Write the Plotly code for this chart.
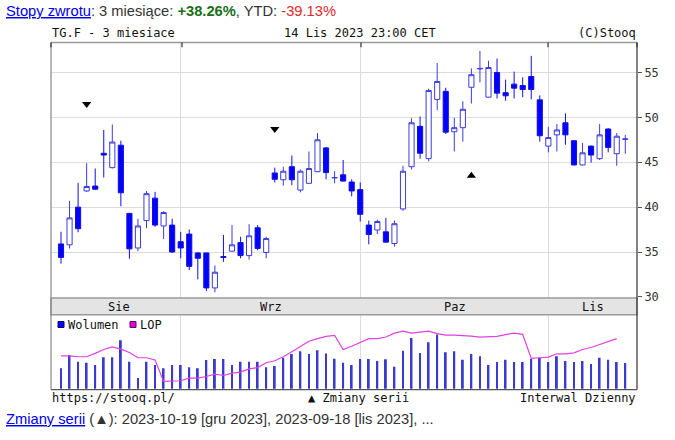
import plotly.graph_objects as go

# ---------------- data ----------------
aug = ["2023-08-%02d" % d for d in [14, 15, 16, 17, 18, 21, 22, 23, 24, 25, 28, 29, 30, 31]]
sep = ["2023-09-%02d" % d for d in [1, 4, 5, 6, 7, 8, 11, 12, 13, 14, 15, 18, 19, 20, 21, 22, 25, 26, 27, 28, 29]]
octo = ["2023-10-%02d" % d for d in [2, 3, 4, 5, 6, 9, 10, 11, 12, 13, 16, 17, 18, 19, 20, 23, 24, 25, 26, 27, 30, 31]]
nov = ["2023-11-%02d" % d for d in [1, 2, 3, 6, 7, 8, 9, 10, 13, 14]]
dates = aug + sep + octo + nov

opens = [35.9, 35.8, 40.0, 41.8, 42.35, 46.0, 44.4, 46.9, 39.3, 35.45, 38.5, 41.0, 37.9, 38.0,
         36.15, 37.0, 34.9, 34.9, 31.0, 34.5, 35.1, 36.05, 34.6, 37.7, 34.95, 43.8, 43.05, 44.5,
         41.9, 42.65, 43.95, 46.6, 43.25, 43.6, 42.8,
         41.95, 38.0, 37.45, 37.25, 35.95, 39.8, 44.5, 49.0, 45.4, 52.0, 52.9, 48.4, 48.85, 53.35,
         55.4, 52.25, 55.0, 52.75, 53.7, 53.55, 54.55, 51.95,
         46.8, 48.05, 49.4, 47.4, 44.7, 46.8, 45.4, 48.7, 45.95, 47.55]
highs = [37.25, 40.7, 42.7, 44.9, 44.3, 48.6, 49.2, 47.4, 39.35, 38.7, 41.8, 41.7, 39.55, 38.7,
         37.25, 37.5, 34.95, 34.9, 33.5, 36.9, 38.0, 36.7, 38.1, 38.0, 36.7, 44.4, 44.5, 45.75,
         44.2, 46.2, 48.25, 46.7, 44.0, 45.25, 43.1,
         42.75, 38.5, 38.6, 38.8, 38.5, 44.6, 49.9, 50.1, 53.2, 56.05, 53.3, 49.95, 51.8, 55.45,
         57.4, 56.3, 56.55, 54.2, 55.1, 54.45, 56.85, 52.45,
         48.95, 49.25, 50.45, 47.45, 47.15, 46.85, 49.25, 48.8, 48.25, 48.05]
lows = [33.7, 35.4, 37.2, 41.7, 41.9, 43.3, 44.3, 40.1, 34.25, 35.1, 37.65, 37.8, 36.45, 34.9,
        34.3, 33.0, 31.95, 30.65, 30.5, 33.9, 35.05, 34.3, 34.15, 35.2, 34.3, 42.75, 42.4, 42.45,
        41.65, 42.6, 43.9, 43.1, 42.65, 42.85, 41.2,
        38.4, 35.85, 37.0, 36.05, 35.6, 39.6, 44.2, 45.4, 45.1, 50.8, 48.15, 46.2, 47.3, 51.55,
        53.9, 52.2, 52.1, 51.85, 52.1, 52.25, 52.0, 47.3,
        46.1, 46.2, 46.95, 44.65, 44.65, 44.95, 45.25, 46.1, 44.6, 45.95]
closes = [34.4, 38.8, 37.6, 42.3, 42.0, 45.8, 47.25, 41.6, 35.35, 37.9, 41.5, 38.0, 39.4, 35.0,
          35.45, 33.4, 34.3, 31.0, 32.75, 34.4, 35.8, 34.6, 36.8, 35.4, 36.5, 43.1, 44.0, 43.05,
          44.0, 44.3, 47.5, 43.85, 43.3, 42.9, 41.8,
          39.2, 36.95, 38.4, 36.1, 38.15, 44.0, 49.4, 46.0, 53.0, 54.0, 48.35, 48.85, 50.9, 54.75,
          55.45, 55.55, 52.7, 52.4, 53.25, 53.1, 53.1, 47.95,
          47.75, 48.6, 48.05, 44.7, 46.05, 45.8, 48.05, 46.65, 47.9, 47.6]

volume = [207, 340, 273, 263, 240, 317, 317, 490, 273, 107, 273, 240, 207, 240,
          240, 217, 207, 290, 300, 300, 240, 273, 273, 273, 217, 230, 313, 350, 380, 350, 390, 357,
          303, 263, 240,
          300, 300, 280, 297, 223, 383, 513, 360, 470, 550, 370, 380, 293, 350, 327, 240, 270, 293,
          270, 270, 300, 313,
          270, 327, 280, 270, 280, 250, 313, 293, 270, 260]
lop = [333, 333, 323, 323, 357, 397, 423, 400, 367, 313, 313, 290, 73, 80,
       80, 107, 107, 123, 147, 133, 157, 167, 200, 213, 263, 283, 323, 373, 423, 480, 507, 530,
       540, 397, 430,
       467, 507, 507, 523, 563, 583, 563, 570, 583, 557, 543, 543, 540, 533, 523, 530, 530, 547,
       563, 550, 307, 313,
       320, 353, 353, 363, 397, 417, 447, 483, 507, None]

marker_down_dates = ["2023-08-17", "2023-09-18"]
marker_down_vals = [51.5, 48.7]
marker_up_dates = ["2023-10-19"]
marker_up_vals = [43.5]

month_starts = ["2023-09-01", "2023-10-02", "2023-11-01"]
month_labels = ["Sie", "Wrz", "Paz", "Lis"]
price_ticks = [30, 35, 40, 45, 50, 55]

ret_3m = "+38.26%"
ret_ytd = "-39.13%"

# ---------------- figure ----------------
W, H = 675, 440
def px(x):
    return x / W
def py(y):
    return 1 - y / H

MONO = "DejaVu Sans Mono"
SANS = "Liberation Sans, Arial"
BLUE = "#0000ff"

fig = go.Figure()

fig.add_trace(go.Candlestick(
    x=dates, open=opens, high=highs, low=lows, close=closes,
    increasing=dict(fillcolor="#ffffff", line=dict(color="#3c3cdc", width=1)),
    decreasing=dict(fillcolor=BLUE, line=dict(color="#1010e0", width=1)),
    whiskerwidth=0, xaxis="x", yaxis="y", showlegend=False, hoverinfo="skip"))

fig.add_trace(go.Scatter(
    x=marker_down_dates, y=marker_down_vals, mode="markers",
    marker=dict(symbol="triangle-down", size=8, color="#000000"),
    xaxis="x", yaxis="y", showlegend=False, hoverinfo="skip"))
fig.add_trace(go.Scatter(
    x=marker_up_dates, y=marker_up_vals, mode="markers",
    marker=dict(symbol="triangle-up", size=8, color="#000000"),
    xaxis="x", yaxis="y", showlegend=False, hoverinfo="skip"))

fig.add_trace(go.Bar(
    x=dates, y=volume, width=0.22, marker=dict(color="#3a3ad0", line=dict(width=0)),
    xaxis="x2", yaxis="y2", showlegend=False, hoverinfo="skip"))
fig.add_trace(go.Scatter(
    x=dates, y=lop, mode="lines", line=dict(color="#e040e0", width=1.2),
    xaxis="x2", yaxis="y3", showlegend=False, hoverinfo="skip", connectgaps=False))

xr = [-1.17, 67.37]
grid = "#dcdcdc"
fig.update_layout(
    width=W, height=H, margin=dict(l=0, r=0, t=0, b=0),
    paper_bgcolor="#ffffff", plot_bgcolor="#ffffff",
    boxgap=0.4, boxgroupgap=0,
    xaxis=dict(domain=[px(51), px(637)], anchor="y", type="category", range=xr,
               categoryorder="array", categoryarray=dates,
               tickvals=month_starts, showticklabels=False, ticks="",
               showgrid=True, gridcolor=grid, gridwidth=1.3, zeroline=False,
               rangeslider=dict(visible=False), fixedrange=True),
    yaxis=dict(domain=[py(302), py(43)], anchor="x", range=[29.89, 58.35], side="right",
               tickvals=price_ticks, ticks="outside", ticklen=4, tickcolor="#555",
               tickfont=dict(family=MONO, size=12, color="#333"),
               showgrid=True, gridcolor=grid, gridwidth=1.3, zeroline=False),
    xaxis2=dict(domain=[px(51), px(637)], anchor="y2", type="category", range=xr,
                categoryorder="array", categoryarray=dates,
                tickvals=month_starts, showticklabels=False, ticks="",
                showgrid=True, gridcolor=grid, gridwidth=1.3, zeroline=False),
    yaxis2=dict(domain=[py(395), py(319)], anchor="x2", range=[-10, 750],
                showticklabels=False, showgrid=False, zeroline=False, ticks=""),
    yaxis3=dict(overlaying="y2", anchor="x2", range=[-10, 750], side="right",
                showticklabels=False, showgrid=False, zeroline=False, ticks=""),
)

shapes = []
# month band
shapes.append(dict(type="rect", xref="paper", yref="paper", x0=px(51), x1=px(637),
                   y0=py(319), y1=py(302), fillcolor="#e4e4e4", line=dict(color="#9a9a9a", width=1.5),
                   layer="above"))
# frame
shapes.append(dict(type="line", xref="paper", yref="paper", x0=px(51), x1=px(637), y0=py(43), y1=py(43),
                   line=dict(color="#9a9a9a", width=1.5)))
shapes.append(dict(type="line", xref="paper", yref="paper", x0=px(51), x1=px(51), y0=py(43), y1=py(395),
                   line=dict(color="#888888", width=1.2)))
shapes.append(dict(type="line", xref="paper", yref="paper", x0=px(637), x1=px(637), y0=py(43), y1=py(395),
                   line=dict(color="#333333", width=1.2)))
shapes.append(dict(type="line", xref="paper", yref="paper", x0=px(51), x1=px(637), y0=py(395), y1=py(395),
                   line=dict(color="#555555", width=1.2)))
for xv in [51, 182, 361, 548, 637]:
    shapes.append(dict(type="line", xref="paper", yref="paper", x0=px(xv), x1=px(xv), y0=py(43), y1=py(48),
                       line=dict(color="#333333", width=1.2)))
# legend squares
shapes.append(dict(type="rect", xref="paper", yref="paper", x0=px(58), x1=px(64), y0=py(332), y1=py(326),
                   fillcolor="#0000ff", line=dict(color="#000060", width=1)))
shapes.append(dict(type="rect", xref="paper", yref="paper", x0=px(130), x1=px(136), y0=py(332), y1=py(326),
                   fillcolor="#e000e0", line=dict(color="#600060", width=1)))
fig.update_layout(shapes=shapes)

ann = []
def text(x, y, s, anchor="left", family=MONO, size=12, color="#111"):
    ann.append(dict(xref="paper", yref="paper", x=px(x), y=py(y), text=s, showarrow=False,
                    xanchor=anchor, yanchor="middle", font=dict(family=family, size=size, color=color)))

text(4, 11, "<span style='color:#0000ee'><u>Stopy zwrotu</u></span>: 3 miesiące: "
            "<b><span style='color:#187018'>%s</span></b>, YTD: "
            "<span style='color:#e02828'>%s</span>" % (ret_3m, ret_ytd),
     family=SANS, size=14.7, color="#333")
text(50, 33, "TG.F - 3 miesiace")
text(360, 33, "14 Lis 2023 23:00 CET", anchor="center")
text(638, 33, "(C)Stooq", anchor="right")
for lab, xc in zip(month_labels, [119, 271, 455, 593]):
    text(xc, 311, lab, anchor="center")
text(66, 329, "Wolumen")
text(138, 329, "LOP")
text(50, 404, "https://stooq.pl/")
text(358, 404, "▲ Zmiany serii", anchor="center")
text(638, 404, "Interwal Dzienny", anchor="right")
text(4, 425, "<span style='color:#0000ee'><u>Zmiany serii</u></span> (▲): 2023-10-19 [gru 2023], "
             "2023-09-18 [lis 2023], ...", family=SANS, size=14.7, color="#333")
fig.update_layout(annotations=ann)

fig.write_html("out.html")
